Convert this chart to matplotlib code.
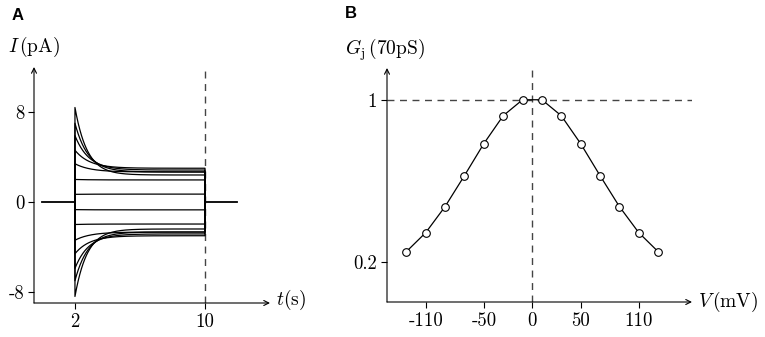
import numpy as np
import matplotlib
matplotlib.use("Agg")
import matplotlib.pyplot as plt

plt.rcParams['mathtext.fontset'] = 'cm'
plt.rcParams['axes.unicode_minus'] = False

# panel A: current traces (positive steps, negatives mirrored)
step_mv = [10, 30, 50, 70, 90, 110, 130]
i_peak = [0.68, 2.0, 3.4, 4.6, 5.9, 7.0, 8.4]
i_steady = [0.70, 1.96, 2.67, 3.0, 2.84, 2.67, 2.4]
tau_s = [1.0, 1.0, 0.95, 0.9, 0.85, 0.8, 0.75]
t_start, t_on, t_off, t_end = 0, 2, 10, 12

# panel B: junctional conductance vs voltage
v_mv = [-130, -110, -90, -70, -50, -30, -10, 10, 30, 50, 70, 90, 110, 130]
gj = [0.249, 0.343, 0.472, 0.625, 0.783, 0.921, 1.0,
      1.0, 0.921, 0.783, 0.625, 0.472, 0.343, 0.249]

W, H = 765, 337
fig = plt.figure(figsize=(W / 100, H / 100), dpi=100)

def px_axes(x0, y_top, x1, y_bot):
    return fig.add_axes([x0 / W, 1 - y_bot / H, (x1 - x0) / W, (y_bot - y_top) / H])

cm = 'cmr10'
tick_fs = 13.5
dash = (0, (5, 4))

def arrow_axes(ax):
    for s in ax.spines.values():
        s.set_visible(False)
    ap = dict(arrowstyle='->', lw=0.8, color='k', shrinkA=0, shrinkB=0, mutation_scale=9)
    ax.annotate('', xy=(1, 0), xytext=(0, 0), xycoords='axes fraction', arrowprops=ap)
    ax.annotate('', xy=(0, 1), xytext=(0, 0), xycoords='axes fraction', arrowprops=ap)
    ax.tick_params(direction='out', length=4, width=0.8, pad=3, labelsize=tick_fs)
    for lab in ax.get_xticklabels() + ax.get_yticklabels():
        lab.set_fontfamily(cm)

# ---- A
axA = px_axes(34, 67, 270, 303)
axA.set_xlim(-0.52, 14.0)
axA.set_ylim(-8.98, 12.0)
axA.axvline(t_off, ls=dash, color='#444444', lw=1.0)
axA.plot([t_start, t_on], [0, 0], color='k', lw=1.3)
axA.plot([t_off, t_end], [0, 0], color='k', lw=1.3)
tt = np.linspace(t_on, t_off, 400)
for sign in (1, -1):
    for p, s, tau in zip(i_peak, i_steady, tau_s):
        cur = s + (p - s) * np.exp(-(tt - t_on) / tau)
        x = np.concatenate([[t_on], tt, [t_off]])
        y = sign * np.concatenate([[0], cur, [0]])
        axA.plot(x, y, color='k', lw=0.9)
axA.set_xticks([2, 10])
axA.set_xticklabels(['2', '10'])
axA.set_yticks([-8, 0, 8])
axA.set_yticklabels(['-8', '0', '8'])
arrow_axes(axA)
fig.text(8 / W, 1 - 47 / H, r'$I\,(\mathrm{pA})$', fontsize=14, va='center', ha='left')
fig.text(276 / W, 1 - 300 / H, r'$t(\mathrm{s})$', fontsize=14, va='center', ha='left')
fig.text(12 / W, 1 - 15 / H, 'A', fontsize=12, fontweight='bold',
         family='Liberation Sans', va='center', ha='left')

# ---- B
axB = px_axes(387, 68, 692, 302)
axB.set_xlim(-150, 165)
axB.set_ylim(0, 1.157)
axB.axvline(0, ls=dash, color='#444444', lw=1.0)
axB.axhline(1, ls=dash, color='#444444', lw=1.0)
axB.plot(v_mv, gj, color='k', lw=0.9, marker='o', ms=5.5, mfc='white',
         mec='k', mew=0.8, zorder=3)
axB.set_xticks([-110, -50, 0, 50, 110])
axB.set_xticklabels(['-110', '-50', '0', '50', '110'])
axB.set_yticks([0.2, 1])
axB.set_yticklabels(['0.2', '1'])
arrow_axes(axB)
fig.text(345 / W, 1 - 50 / H, r'$G_{\mathrm{j}}\,(70\mathrm{pS})$', fontsize=14, va='center', ha='left')
fig.text(698 / W, 1 - 302 / H, r'$V\,(\mathrm{mV})$', fontsize=14, va='center', ha='left')
fig.text(345 / W, 1 - 14 / H, 'B', fontsize=12, fontweight='bold',
         family='Liberation Sans', va='center', ha='left')

fig.savefig('out.png', dpi=100)
